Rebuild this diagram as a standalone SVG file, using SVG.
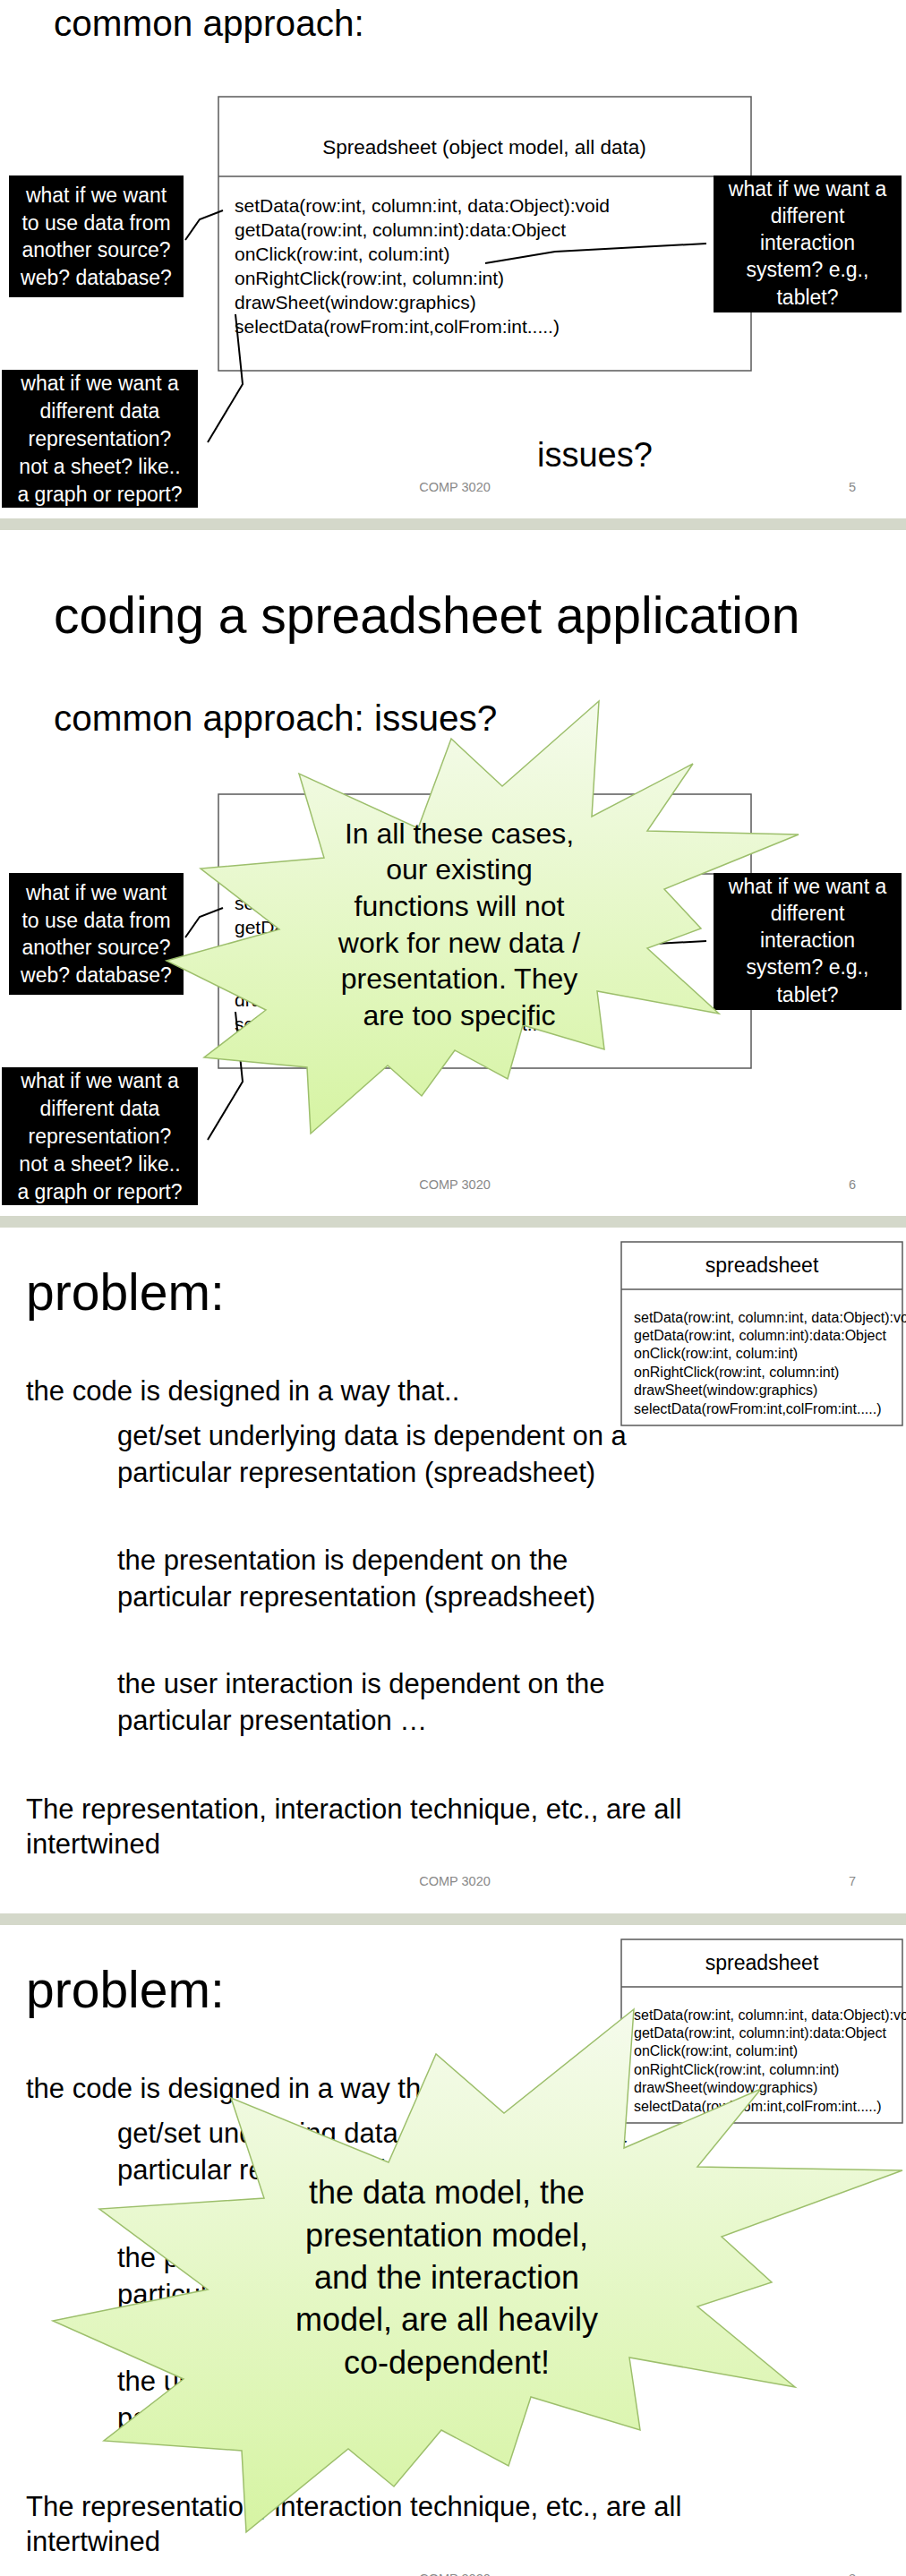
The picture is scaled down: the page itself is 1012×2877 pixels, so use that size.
<svg xmlns="http://www.w3.org/2000/svg" width="1012" height="2877" viewBox="0 0 1012 2877">
<defs>
<style>
text{font-family:"Liberation Sans",Arial,sans-serif;fill:#000}
.h1{font-size:57px}
.h2{font-size:40.5px}
.box{fill:#fff;stroke:#595959;stroke-width:1.5}
.div{stroke:#595959;stroke-width:1.5}
.cls{font-size:22.5px;text-anchor:middle}
.meth{font-size:21px}
.note{fill:#000}
.nt{font-size:23px;fill:#fff;text-anchor:middle}
.foot{font-size:14.5px;fill:#898989;text-anchor:middle}
.bar{fill:#d4d8ca}
.conn{fill:none;stroke:#000;stroke-width:2}
.burst{fill:url(#burstGrad);stroke:#9dbf6c;stroke-width:1.5;stroke-linejoin:miter}
.bt{font-size:32px;text-anchor:middle}
.bt4{font-size:36px;text-anchor:middle}
.body{font-size:31px}
.prob{font-size:57px}
.scls{font-size:23px;text-anchor:middle}
.smeth{font-size:16px}
</style>
<linearGradient id="burstGrad" x1="0" y1="0" x2="0" y2="1">
<stop offset="0" stop-color="#f5fbec"/>
<stop offset="1" stop-color="#d6f4a3"/>
</linearGradient>
</defs>
<rect x="0" y="0" width="1012" height="2877" fill="#fff"/>

<!-- separator bars -->
<g id="bars">
<rect class="bar" x="0" y="579" width="1012" height="13"/>
<rect class="bar" x="0" y="1358" width="1012" height="13"/>
<rect class="bar" x="0" y="2137" width="1012" height="13"/>
</g>

<!-- ============ SLIDE 1 ============ -->
<g id="slide1">
<g id="s1-title"><text class="h2" x="60" y="40">common approach:</text></g>
<g id="s1-spreadsheet">
<rect class="box" x="244" y="108" width="595" height="306"/>
<line class="div" x1="244" y1="197" x2="839" y2="197"/>
<text class="cls" x="541" y="172">Spreadsheet (object model, all data)</text>
<text class="meth" x="262" y="237">setData(row:int, column:int, data:Object):void</text>
<text class="meth" x="262" y="264">getData(row:int, column:int):data:Object</text>
<text class="meth" x="262" y="291">onClick(row:int, colum:int)</text>
<text class="meth" x="262" y="318">onRightClick(row:int, column:int)</text>
<text class="meth" x="262" y="345">drawSheet(window:graphics)</text>
<text class="meth" x="262" y="372">selectData(rowFrom:int,colFrom:int.....)</text>
</g>
<g id="s1-connectors">
<polyline class="conn" points="207,268 223,245 249,235"/>
<polyline class="conn" points="789,272 620,281 542,294"/>
<polyline class="conn" points="232,494 271,429 263,351"/>
</g>
<g id="s1-note-source">
<rect class="note" x="10" y="196" width="195" height="136"/>
<text class="nt" x="107.5" y="226">what if we want</text>
<text class="nt" x="107.5" y="256.5">to use data from</text>
<text class="nt" x="107.5" y="287">another source?</text>
<text class="nt" x="107.5" y="317.5">web? database?</text>
</g>
<g id="s1-note-interaction">
<rect class="note" x="797" y="196" width="210" height="153"/>
<text class="nt" x="902" y="219">what if we want a</text>
<text class="nt" x="902" y="249">different</text>
<text class="nt" x="902" y="279">interaction</text>
<text class="nt" x="902" y="309">system? e.g.,</text>
<text class="nt" x="902" y="340">tablet?</text>
</g>
<g id="s1-note-representation">
<rect class="note" x="2" y="413" width="219" height="154"/>
<text class="nt" x="111.5" y="436">what if we want a</text>
<text class="nt" x="111.5" y="467">different data</text>
<text class="nt" x="111.5" y="498">representation?</text>
<text class="nt" x="111.5" y="529">not a sheet? like..</text>
<text class="nt" x="111.5" y="559.5">a graph or report?</text>
</g>
<g id="s1-issues"><text x="600" y="521" font-size="38">issues?</text></g>
<g id="s1-footer">
<text class="foot" x="508" y="549">COMP 3020</text>
<text class="foot" x="952" y="549">5</text>
</g>
</g>

<!-- ============ SLIDE 2 ============ -->
<g id="slide2">
<g id="s2-title">
<text class="h1" x="60" y="707">coding a spreadsheet application</text>
<text class="h2" x="60" y="816">common approach: issues?</text>
</g>
<g id="s2-spreadsheet" transform="translate(0,779)">
<rect class="box" x="244" y="108" width="595" height="306"/>
<line class="div" x1="244" y1="197" x2="839" y2="197"/>
<text class="cls" x="541" y="172">Spreadsheet (object model, all data)</text>
<text class="meth" x="262" y="237">setData(row:int, column:int, data:Object):void</text>
<text class="meth" x="262" y="264">getData(row:int, column:int):data:Object</text>
<text class="meth" x="262" y="291">onClick(row:int, colum:int)</text>
<text class="meth" x="262" y="318">onRightClick(row:int, column:int)</text>
<text class="meth" x="262" y="345">drawSheet(window:graphics)</text>
<text class="meth" x="262" y="372">selectData(rowFrom:int,colFrom:int.....)</text>
</g>
<g id="s2-connectors" transform="translate(0,779)">
<polyline class="conn" points="207,268 223,245 249,235"/>
<polyline class="conn" points="789,272 620,281 542,294"/>
<polyline class="conn" points="232,494 271,429 263,351"/>
</g>
<g id="s2-note-source" transform="translate(0,779)">
<rect class="note" x="10" y="196" width="195" height="136"/>
<text class="nt" x="107.5" y="226">what if we want</text>
<text class="nt" x="107.5" y="256.5">to use data from</text>
<text class="nt" x="107.5" y="287">another source?</text>
<text class="nt" x="107.5" y="317.5">web? database?</text>
</g>
<g id="s2-note-interaction" transform="translate(0,779)">
<rect class="note" x="797" y="196" width="210" height="153"/>
<text class="nt" x="902" y="219">what if we want a</text>
<text class="nt" x="902" y="249">different</text>
<text class="nt" x="902" y="279">interaction</text>
<text class="nt" x="902" y="309">system? e.g.,</text>
<text class="nt" x="902" y="340">tablet?</text>
</g>
<g id="s2-note-representation" transform="translate(0,779)">
<rect class="note" x="2" y="413" width="219" height="154"/>
<text class="nt" x="111.5" y="436">what if we want a</text>
<text class="nt" x="111.5" y="467">different data</text>
<text class="nt" x="111.5" y="498">representation?</text>
<text class="nt" x="111.5" y="529">not a sheet? like..</text>
<text class="nt" x="111.5" y="559.5">a graph or report?</text>
</g>
<g id="s2-footer">
<text class="foot" x="508" y="1328">COMP 3020</text>
<text class="foot" x="952" y="1328">6</text>
</g>
<g id="s2-burst">
<polygon class="burst" points="669,783 561,878 504,825 467,925 334,864 362,958 224,970 312,1038 186,1073 297,1128 228,1181 343,1192 347,1266 433,1190 471,1224 508,1173 567,1205 584,1145 675,1172 667,1107 803,1132 723,1059 783,1037 742,993 892,932 723,928 774,853 661,912"/>
<text class="bt" x="513" y="942">In all these cases,</text>
<text class="bt" x="513" y="982">our existing</text>
<text class="bt" x="513" y="1023">functions will not</text>
<text class="bt" x="513" y="1064">work for new data /</text>
<text class="bt" x="513" y="1104">presentation. They</text>
<text class="bt" x="513" y="1145">are too specific</text>
</g>
</g>

<!-- ============ SLIDE 3 ============ -->
<g id="slide3">
<g id="s3-title"><text class="prob" x="29" y="1463">problem:</text></g>
<g id="s3-body">
<text class="body" x="29" y="1564">the code is designed in a way that..</text>
<text class="body" x="131" y="1614">get/set underlying data is dependent on a</text>
<text class="body" x="131" y="1655">particular representation (spreadsheet)</text>
<text class="body" x="131" y="1753">the presentation is dependent on the</text>
<text class="body" x="131" y="1794">particular representation (spreadsheet)</text>
<text class="body" x="131" y="1891">the user interaction is dependent on the</text>
<text class="body" x="131" y="1932">particular presentation …</text>
<text class="body" x="29" y="2031">The representation, interaction technique, etc., are all</text>
<text class="body" x="29" y="2070">intertwined</text>
</g>
<g id="s3-spreadsheet">
<rect class="box" x="694" y="1387" width="314" height="205"/>
<line class="div" x1="694" y1="1440" x2="1008" y2="1440"/>
<text class="scls" x="851" y="1421">spreadsheet</text>
<text class="smeth" x="708" y="1476.5">setData(row:int, column:int, data:Object):void</text>
<text class="smeth" x="708" y="1497">getData(row:int, column:int):data:Object</text>
<text class="smeth" x="708" y="1517">onClick(row:int, colum:int)</text>
<text class="smeth" x="708" y="1538">onRightClick(row:int, column:int)</text>
<text class="smeth" x="708" y="1558">drawSheet(window:graphics)</text>
<text class="smeth" x="708" y="1578.5">selectData(rowFrom:int,colFrom:int.....)</text>
</g>
<g id="s3-footer">
<text class="foot" x="508" y="2106">COMP 3020</text>
<text class="foot" x="952" y="2106">7</text>
</g>
</g>

<!-- ============ SLIDE 4 ============ -->
<g id="slide4">
<g id="s4-title"><text class="prob" x="29" y="2242">problem:</text></g>
<g id="s4-body" transform="translate(0,779)">
<text class="body" x="29" y="1564">the code is designed in a way that..</text>
<text class="body" x="131" y="1614">get/set underlying data is dependent on a</text>
<text class="body" x="131" y="1655">particular representation (spreadsheet)</text>
<text class="body" x="131" y="1753">the presentation is dependent on the</text>
<text class="body" x="131" y="1794">particular representation (spreadsheet)</text>
<text class="body" x="131" y="1891">the user interaction is dependent on the</text>
<text class="body" x="131" y="1932">particular presentation …</text>
<text class="body" x="29" y="2031">The representation, interaction technique, etc., are all</text>
<text class="body" x="29" y="2070">intertwined</text>
</g>
<g id="s4-spreadsheet" transform="translate(0,779)">
<rect class="box" x="694" y="1387" width="314" height="205"/>
<line class="div" x1="694" y1="1440" x2="1008" y2="1440"/>
<text class="scls" x="851" y="1421">spreadsheet</text>
<text class="smeth" x="708" y="1476.5">setData(row:int, column:int, data:Object):void</text>
<text class="smeth" x="708" y="1497">getData(row:int, column:int):data:Object</text>
<text class="smeth" x="708" y="1517">onClick(row:int, colum:int)</text>
<text class="smeth" x="708" y="1538">onRightClick(row:int, column:int)</text>
<text class="smeth" x="708" y="1558">drawSheet(window:graphics)</text>
<text class="smeth" x="708" y="1578.5">selectData(rowFrom:int,colFrom:int.....)</text>
</g>
<g id="s4-footer">
<text class="foot" x="508" y="2885">COMP 3020</text>
<text class="foot" x="952" y="2885">8</text>
</g>
<g id="s4-burst">
<polygon class="burst" points="708,2244 563,2360 487,2294 434,2415 258,2343 295,2455 111,2467 232,2557 59,2592 205,2657 116,2726 270,2737 275,2828 389,2735 440,2777 493,2714 568,2754 593,2677 715,2714 703,2633 888,2666 779,2576 862,2549 806,2498 1008,2424 779,2420 850,2333 697,2399"/>
<text class="bt4" x="499" y="2461">the data model, the</text>
<text class="bt4" x="499" y="2509">presentation model,</text>
<text class="bt4" x="499" y="2556">and the interaction</text>
<text class="bt4" x="499" y="2603">model, are all heavily</text>
<text class="bt4" x="499" y="2651">co-dependent!</text>
</g>
</g>
</svg>
